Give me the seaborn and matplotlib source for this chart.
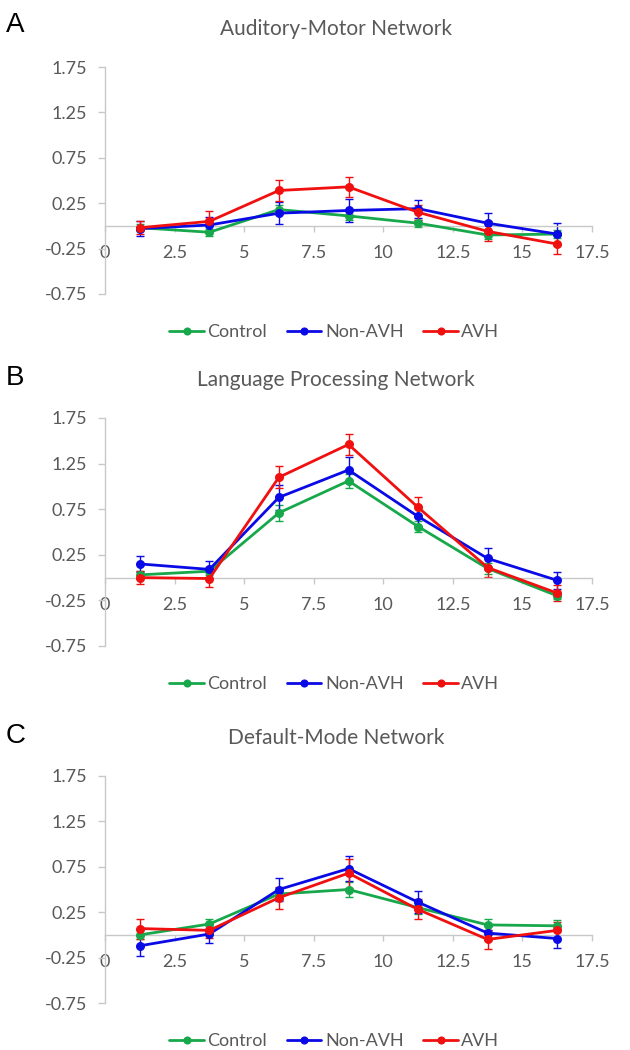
import numpy as np
import pandas as pd
import matplotlib
matplotlib.use("Agg")
import matplotlib.pyplot as plt
import seaborn as sns

# Time bins (x positions)
time_bins = [1.25, 3.75, 6.25, 8.75, 11.25, 13.75, 16.25]
groups = ["Control", "Non-AVH", "AVH"]
panel_titles = ["Auditory-Motor Network", "Language Processing Network", "Default-Mode Network"]
panel_letters = ["A", "B", "C"]

# Panel A - Auditory-Motor Network
am_control = [-0.02, -0.07, 0.18, 0.11, 0.03, -0.10, -0.09]
am_control_err = [0.04, 0.04, 0.05, 0.05, 0.04, 0.04, 0.04]
am_nonavh = [-0.03, 0.01, 0.14, 0.17, 0.19, 0.03, -0.09]
am_nonavh_err = [0.08, 0.09, 0.12, 0.13, 0.10, 0.11, 0.12]
am_avh = [-0.02, 0.05, 0.39, 0.43, 0.15, -0.06, -0.20]
am_avh_err = [0.07, 0.11, 0.12, 0.11, 0.08, 0.11, 0.11]

# Panel B - Language Processing Network
lp_control = [0.03, 0.07, 0.71, 1.06, 0.56, 0.10, -0.20]
lp_control_err = [0.04, 0.04, 0.09, 0.08, 0.06, 0.06, 0.04]
lp_nonavh = [0.15, 0.09, 0.88, 1.18, 0.67, 0.21, -0.03]
lp_nonavh_err = [0.085, 0.095, 0.14, 0.14, 0.10, 0.12, 0.09]
lp_avh = [0.00, -0.01, 1.10, 1.46, 0.77, 0.11, -0.17]
lp_avh_err = [0.07, 0.09, 0.12, 0.12, 0.11, 0.10, 0.09]

# Panel C - Default-Mode Network
dm_control = [0.00, 0.12, 0.45, 0.50, 0.30, 0.11, 0.10]
dm_control_err = [0.05, 0.06, 0.07, 0.08, 0.07, 0.06, 0.06]
dm_nonavh = [-0.12, 0.01, 0.50, 0.73, 0.36, 0.02, -0.04]
dm_nonavh_err = [0.11, 0.10, 0.13, 0.14, 0.12, 0.08, 0.10]
dm_avh = [0.07, 0.05, 0.41, 0.68, 0.28, -0.05, 0.05]
dm_avh_err = [0.11, 0.08, 0.12, 0.16, 0.11, 0.10, 0.09]

panels = [
    ([am_control, am_nonavh, am_avh], [am_control_err, am_nonavh_err, am_avh_err]),
    ([lp_control, lp_nonavh, lp_avh], [lp_control_err, lp_nonavh_err, lp_avh_err]),
    ([dm_control, dm_nonavh, dm_avh], [dm_control_err, dm_nonavh_err, dm_avh_err]),
]

y_ticks = [-0.75, -0.25, 0.25, 0.75, 1.25, 1.75]
y_tick_labels = ["-0.75", "-0.25", "0.25", "0.75", "1.25", "1.75"]
x_ticks = [0, 2.5, 5, 7.5, 10, 12.5, 15, 17.5]
x_tick_labels = ["0", "2.5", "5", "7.5", "10", "12.5", "15", "17.5"]

palette = {"Control": "#17A84B", "Non-AVH": "#0A0AE6", "AVH": "#F01010"}
text_gray = "#595959"
axis_gray = "#C8C8C8"

sns.set_theme(style="white")
plt.rcParams['font.family'] = ['Lato', 'DejaVu Sans']
plt.rcParams['axes.unicode_minus'] = False

fig = plt.figure(figsize=(6.3, 10.5), dpi=100)

# axes rectangles in pixel space (top, bottom of the y-range)
px_tops = [67, 418, 776]
px_bottoms = [294, 646, 1003]
title_y = [29, 380, 738]
letter_y = [25, 378, 736]
left_px, right_px = 105, 592

for i, (vals, errs) in enumerate(panels):
    top = 1 - px_tops[i] / 1050
    bottom = 1 - px_bottoms[i] / 1050
    ax = fig.add_axes([left_px / 630, bottom, (right_px - left_px) / 630, top - bottom])

    rows = []
    for g, v in zip(groups, vals):
        for x, y in zip(time_bins, v):
            rows.append({"time": x, "value": y, "group": g})
    df = pd.DataFrame(rows)

    for g, v, e in zip(groups, vals, errs):
        ax.errorbar(time_bins, v, yerr=e, fmt="none", ecolor=palette[g],
                    elinewidth=1.0, capsize=3, capthick=1.0, zorder=2)

    sns.lineplot(data=df, x="time", y="value", hue="group", hue_order=groups,
                 palette=palette, marker="o", markersize=6.5, markeredgewidth=0,
                 linewidth=2.0, ax=ax, zorder=3, legend=True)

    ax.set_xlim(0, 17.5)
    ax.set_ylim(-0.75, 1.75)
    ax.set_xlabel("")
    ax.set_ylabel("")

    for s in ["top", "right"]:
        ax.spines[s].set_visible(False)
    ax.spines["bottom"].set_position(("data", 0))
    ax.spines["bottom"].set_color(axis_gray)
    ax.spines["left"].set_color(axis_gray)
    ax.spines["bottom"].set_linewidth(1.0)
    ax.spines["left"].set_linewidth(1.0)

    ax.set_yticks(y_ticks)
    ax.set_yticklabels(y_tick_labels)
    ax.set_xticks(x_ticks)
    ax.set_xticklabels(x_tick_labels)
    ax.tick_params(axis="both", which="both", width=1.0, color=axis_gray,
                   labelcolor=text_gray, labelsize=13, direction="out",
                   left=True, bottom=True)
    ax.tick_params(axis="y", length=5, pad=8)
    ax.tick_params(axis="x", length=4, pad=10)

    h_ax = px_bottoms[i] - px_tops[i]
    ax.text(0.474, 1 + (px_tops[i] - title_y[i]) / h_ax, panel_titles[i],
            transform=ax.transAxes, ha="center", va="center", fontsize=15, color=text_gray)
    fig.text(6 / 630, 1 - letter_y[i] / 1050, panel_letters[i], ha="left", va="center",
             fontsize=20, color="black", family=["Liberation Sans", "DejaVu Sans"])

    handles, labels = ax.get_legend_handles_labels()
    ax.legend(handles, labels, loc="center", bbox_to_anchor=(0.471, -38 / h_ax), ncol=3,
              frameon=False, fontsize=13, labelcolor=text_gray, handlelength=1.9,
              handletextpad=0.2, columnspacing=1.1, borderaxespad=0, markerscale=0.9)

fig.savefig("out.png", dpi=100)
